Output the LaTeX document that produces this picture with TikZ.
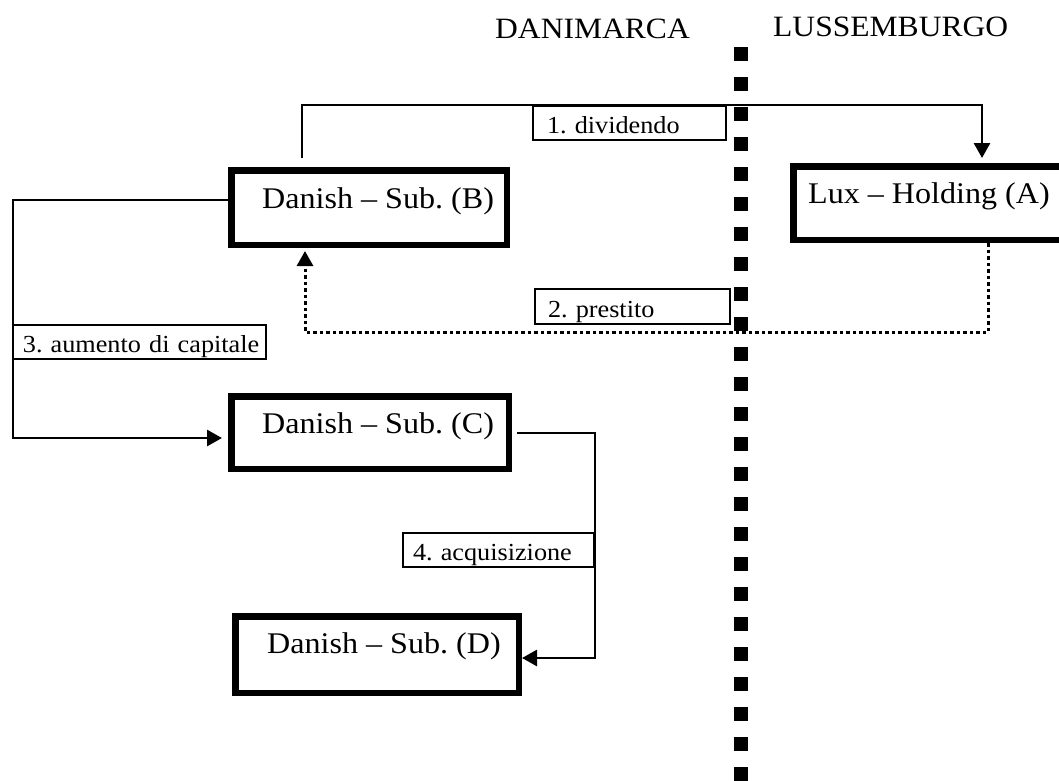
\documentclass[tikz,border=0pt]{standalone}
\usepackage{fontspec}
\setmainfont[FakeStretch=1.07]{Liberation Serif}
\usetikzlibrary{arrows.meta,calc}
\frenchspacing
\tikzset{
  mainbox/.style={draw, rectangle, line width=6.5pt, inner sep=0pt},
  boxtext/.style={inner sep=0pt, anchor=base west, font=\fontsize{30}{36}\selectfont},
  head/.style={inner sep=0pt, anchor=base west, font=\fontsize{29.5}{35}\selectfont},
  lab/.style={draw, rectangle, line width=1.8pt, inner ysep=0pt, text height=22pt, text depth=1pt, align=left, font=\fontsize{24.5}{29}\selectfont},
  conn/.style={line width=2.8pt, -{Triangle[length=15pt,width=16pt]}},
  dotconn/.style={conn, line width=3pt, dash pattern=on 3.5pt off 3pt},
  divider/.style={line width=14pt, dash pattern=on 14pt off 16pt}
}
\begin{document}
\frenchspacing
\begin{tikzpicture}[x=1pt,y=-1pt]
\useasboundingbox (0,0) rectangle (1059,780);
\clip (0,0) rectangle (1059,780);

% border between countries
\coordinate (dtop) at (741,47);
\coordinate (dbot) at (741,800);
\draw[divider] (dtop) -- (dbot);

% headers
\node[head] (dk) at (495,38) {DANIMARCA};
\node[head] (lu) at (773,36) {LUSSEMBURGO};

% main boxes
\node[mainbox, minimum width=275.5pt, minimum height=74.5pt] (B) at (369,207.5) {};
\node[mainbox, minimum width=283.5pt, minimum height=73.5pt] (A) at (935,203) {};
\node[mainbox, minimum width=277.5pt, minimum height=72.5pt] (C) at (370,432.5) {};
\node[mainbox, minimum width=283.5pt, minimum height=76.5pt] (D) at (377,654.5) {};

\node[boxtext] (Bt) at ([shift={(34,41)}]B.north west) {Danish – Sub. (B)};
\node[boxtext] (At) at ([shift={(18,40)}]A.north west) {Lux – Holding (A)};
\node[boxtext] (Ct) at ([shift={(34,40)}]C.north west) {Danish – Sub. (C)};
\node[boxtext] (Dt) at ([shift={(35,40)}]D.north west) {Danish – Sub. (D)};

% connectors
\draw[conn] ([shift={(-67,-9)}]B.north) -- ++(0,-53) -| ([shift={(47,-5)}]A.north);
\draw[dotconn] ([shift={(53,0)}]A.south) -- ++(0,89) -| ([shift={(-64,3)}]B.south);
\draw[conn] ([shift={(0,-7.5)}]B.west) -- ++(-215,0) |- ([shift={(-6,5.5)}]C.west);
\draw[conn] ([shift={(5,0.5)}]C.east) -- ++(78,0) |- ([shift={(0,3.5)}]D.east);

% labels
\node[lab, inner xsep=14.1pt, text width=165pt, minimum height=34.2pt] (L1) at (629.5,123) {\mbox{1. dividendo}};
\node[lab, inner xsep=13.1pt, text width=169pt, minimum height=35.2pt] (L2) at (632.5,306.5) {\mbox{2. prestito}};
\node[lab, inner xsep=10pt, text width=233.2pt, minimum height=34.2pt] (L3) at (139.5,342) {\mbox{3. aumento di capitale}};
\node[lab, inner xsep=10.1pt, text width=171pt, minimum height=34.2pt] (L4) at (498.5,550) {\mbox{4. acquisizione}};
\end{tikzpicture}
\end{document}
